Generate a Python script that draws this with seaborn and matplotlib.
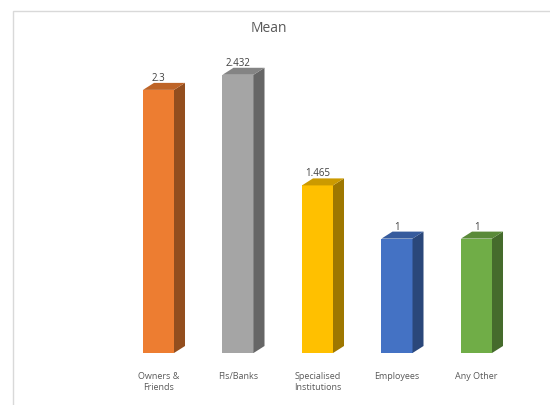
import matplotlib
matplotlib.use("Agg")
import matplotlib.pyplot as plt
from matplotlib.patches import Polygon, Rectangle
from matplotlib.colors import to_rgb
import seaborn as sns
import pandas as pd

categories = ["Owners &\nFriends", "FIs/Banks", "Specialised\nInstitutions", "Employees", "Any Other"]
values = [2.3, 2.432, 1.465, 1, 1]
value_labels = ["2.3", "2.432", "1.465", "1", "1"]
colors = ["#ED7D31", "#A5A5A5", "#FFC000", "#4472C4", "#70AD47"]
title = "Mean"

sns.set_theme(style="white")
plt.rcParams['font.family'] = ['Open Sans', 'DejaVu Sans']

fig = plt.figure(figsize=(5.5, 4.05), dpi=100)
fig.patch.set_facecolor("white")

# chart frame (cropped at right/bottom)
fig.patches.append(Rectangle((13 / 550, -0.1), 1.2, (405 - 11) / 405 + 0.1,
                             transform=fig.transFigure, fill=False,
                             edgecolor="#D9D9D9", linewidth=1.0))

ax = fig.add_axes([118.75 / 550, 52 / 405, 397.5 / 550, (2.7 * 114.4) / 405])
df = pd.DataFrame({"cat": categories, "val": values})
sns.barplot(data=df, x="cat", y="val", hue="cat", palette=colors, legend=False,
            width=0.39, ax=ax, saturation=1, edgecolor="none", linewidth=0)
ax.set_xlim(-0.5, 4.5)
ax.set_ylim(0, 2.7)
for s in ax.spines.values():
    s.set_visible(False)
ax.set_yticks([])
ax.set_xlabel("")
ax.set_ylabel("")
ax.tick_params(axis="x", length=0, pad=14, labelsize=6.5, labelcolor="#595959")
ax.set_facecolor("none")

ddx, ddy = 11, 7  # depth offsets in pixels


def darker(c, f):
    r, g, b = to_rgb(c)
    return (r * f, g * f, b * f)


tr = ax.transData
for patch, col, lab in zip(ax.patches, colors, value_labels):
    x0 = patch.get_x()
    w = patch.get_width()
    h = patch.get_height()
    x1 = x0 + w
    p00 = tr.transform((x1, 0))
    p01 = tr.transform((x1, h))
    p_tl = tr.transform((x0, h))
    side = Polygon([p00, p01, (p01[0] + ddx, p01[1] + ddy), (p00[0] + ddx, p00[1] + ddy)],
                   closed=True, transform=None, facecolor=darker(col, 0.62),
                   edgecolor="none", clip_on=False)
    top = Polygon([p_tl, p01, (p01[0] + ddx, p01[1] + ddy), (p_tl[0] + ddx, p_tl[1] + ddy)],
                  closed=True, transform=None, facecolor=darker(col, 0.8),
                  edgecolor="none", clip_on=False)
    fig.patches.append(side)
    fig.patches.append(top)
    ax.annotate(lab, xy=(x0 + w / 2, h), xytext=(0, 6), textcoords="offset pixels",
                ha="center", va="bottom", fontsize=7, color="#404040")

fig.text(269 / 550, 1 - 29 / 405, title, ha="center", va="center",
         fontsize=10, color="#595959")

fig.savefig("out.png", dpi=100, facecolor="white")
